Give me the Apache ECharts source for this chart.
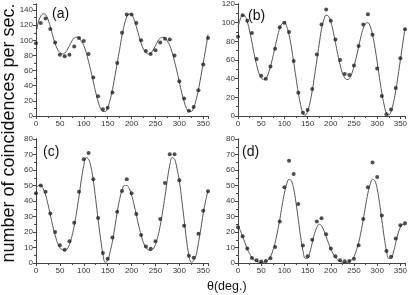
<!DOCTYPE html>
<html><head><meta charset="utf-8">
<script src="https://cdn.jsdelivr.net/npm/echarts@6/dist/echarts.min.js"></script>
<style>html,body{margin:0;padding:0;background:#fff}#c{width:416px;height:295px}</style>
</head><body><div id="c"></div>
<script>
// measured angles (deg)
const theta = [0,10,20,30,40,50,60,70,80,90,100,110,120,130,140,150,160,170,180,190,200,210,220,230,240,250,260,270,280,290,300,310,320,330,340,350,360];
// fitted-curve angles (deg)
const thetaFit = [0,5,10,15,20,25,30,35,40,45,50,55,60,65,70,75,80,85,90,95,100,105,110,115,120,125,130,135,140,145,150,155,160,165,170,175,180,185,190,195,200,205,210,215,220,225,230,235,240,245,250,255,260,265,270,275,280,285,290,295,300,305,310,315,320,325,330,335,340,345,350,355,360];

const ptsA = [96,123,129,115,97,81,79,81,92,103,99,82,51,26,9,11,31,70,110,134,134,123,100,86,82,87,97,102,101,80,46,23,7,12,34,68,103];
const fitA = [108,124,132,135,134,128,118,106,96,88,84,82,83,87,93,99,103,104,103,99,93,84,72,59,45,31,19,10,6,6,11,21,35,52,70,88,106,121,131,135,134,128,118,107,96,88,84,82,83,87,93,99,103,104,103,99,93,84,72,59,45,31,19,10,6,6,11,21,35,52,70,88,108];

const ptsB = [85,108,102,89,61,43,40,53,72,95,100,90,59,25,3.5,6.4,29,66,98,114,102,82,60,45,44,54,75,98,109,87,51,21.5,2,7,30,62,93];
const fitB = [95,104,108,107,101,91,79,66,55,46,41,39,40,45,53,63,74,85,94,99,100,96,87,74,58,41,25,12,3,1,5,14,27,43,60,77,93,103,108,107,101,91,79,66,55,46,41,39,40,45,53,63,74,85,94,99,100,96,87,74,58,41,25,12,3,1,5,14,27,43,60,77,94];

const ptsC = [45,50,46,32,20,11.5,8.5,14,26,46,67,71,54,29,6.4,2.8,16.4,33,46.5,54,45,31.6,18,10.7,9.2,14,28.4,51.6,70.2,70.2,53.4,24,4.7,3.4,18.8,33.7,46.3];
const fitC = [48,50,50,48,44,38,31,24,18,13,10,8.5,8,9,12,17,24,33,43,54,63,68,67,62,53,41,28,16,6,0.5,1.5,7,14,23,33,41,47,50,50,48,44,38,31,24,18,13,10,8.5,8,9,12,17,24,33,43,54,63,68,67,61,53,41,28,15,5,0.5,1.5,5,13,22,32,40,47];

const ptsD = [23,17.3,9.3,3.3,1.7,0.9,1.3,3,10.4,26.7,48.8,66,57.4,38,11.3,4.3,15,26.7,28.8,18.6,9.3,4.3,1.7,1.1,1.3,2.8,11.5,28.4,48.8,64.8,55.5,30.6,7.8,4.1,15.8,24.3,25.6];
const fitD = [24,21,17,13,9,6,3.5,2,1,0.5,0.3,0.5,1,2,4,8,13,20,28,37,45,51,54,53,48,39,28,17,8,3,3,7,13,19,23,25,24,21,17,13,9,6,3.5,2,1,0.5,0.3,0.5,1,2,4,8,13,20,28,37,45,51,54,53,48,39,28,17,8,3,3,7,13,19,23,25,24];

const panelLabels = ['(a)','(b)','(c)','(d)'];
const yMax = [148,120,80,80];
const yInterval = [20,20,10,10];
const xTickInterval = 50;
const yTitle = 'number of coincidences per sec.';
const xTitle = 'θ(deg.)';

const pts = [ptsA,ptsB,ptsC,ptsD];
const fits = [fitA,fitB,fitC,fitD];

const grids = [
  {left:36, top:4, width:172, height:112},
  {left:238, top:4, width:167, height:112},
  {left:36, top:139, width:172, height:124},
  {left:238, top:139, width:167, height:124}
];
const labelPos = [[52,7],[248,9],[43,145],[242,145]];
const axisColor = '#444';
const font = 'Liberation Sans, Arial, sans-serif';

const xAxis = [], yAxis = [], series = [];
grids.forEach((g,i)=>{
  xAxis.push({gridIndex:i, type:'value', min:0, max:360, interval:xTickInterval, position:'bottom',
    axisLine:{lineStyle:{color:axisColor,width:1}}, axisTick:{length:3, inside:false, lineStyle:{color:axisColor}},
    minorTick:{show:true, splitNumber:2, length:2, lineStyle:{color:axisColor}},
    axisLabel:{fontSize:8, color:'#333', margin:4, fontFamily:font, showMaxLabel:false},
    splitLine:{show:false}});
  xAxis.push({gridIndex:i, type:'value', min:0, max:360, interval:xTickInterval, position:'top',
    axisLine:{lineStyle:{color:axisColor,width:1}}, axisTick:{length:3, inside:true, lineStyle:{color:axisColor}},
    minorTick:{show:true, splitNumber:2, length:2, lineStyle:{color:axisColor}},
    axisLabel:{show:false}, splitLine:{show:false}});
  yAxis.push({gridIndex:i, type:'value', min:0, max:yMax[i], interval:yInterval[i], position:'left',
    axisLine:{show:true, lineStyle:{color:axisColor,width:1}}, axisTick:{show:true, length:3, inside:false, lineStyle:{color:axisColor}},
    minorTick:{show:true, splitNumber:2, length:2, lineStyle:{color:axisColor}},
    axisLabel:{fontSize:8, color:'#333', margin:3, fontFamily:font, showMaxLabel: yMax[i] % yInterval[i] === 0},
    splitLine:{show:false}});
  yAxis.push({gridIndex:i, type:'value', min:0, max:yMax[i], interval:yInterval[i], position:'right',
    axisLine:{show:true, lineStyle:{color:axisColor,width:1}}, axisTick:{show:true, length:3, inside:true, lineStyle:{color:axisColor}},
    minorTick:{show:true, splitNumber:2, length:2, lineStyle:{color:axisColor}},
    axisLabel:{show:false}, splitLine:{show:false}});
  series.push({type:'line', xAxisIndex:2*i, yAxisIndex:2*i, data: thetaFit.map((t,k)=>[t,fits[i][k]]),
    smooth:0.4, symbol:'none', lineStyle:{color:'#555', width:1}, z:2, silent:true, animation:false});
  series.push({type:'scatter', xAxisIndex:2*i, yAxisIndex:2*i, data: theta.map((t,k)=>[t,pts[i][k]]),
    symbol:'circle', symbolSize:4, itemStyle:{color:'#222'}, z:3, silent:true, animation:false});
});

const graphic = panelLabels.map((s,i)=>({type:'text', left:labelPos[i][0], top:labelPos[i][1],
  style:{text:s, fontSize:14, fill:'#111', font:'14px '+font}}));
graphic.push({type:'text', x:18, y:133, rotation:Math.PI/2, style:{text:yTitle, font:'18px '+font, fill:'#111', align:'center', verticalAlign:'bottom'}});
graphic.push({type:'text', left:207, top:280, style:{text:xTitle, font:'12.5px '+font, fill:'#111'}});

const chart = echarts.init(document.getElementById('c'), null, {renderer:'canvas'});
chart.setOption({animation:false, backgroundColor:'#fff', grid:grids, xAxis, yAxis, series, graphic});
</script>
</body></html>
